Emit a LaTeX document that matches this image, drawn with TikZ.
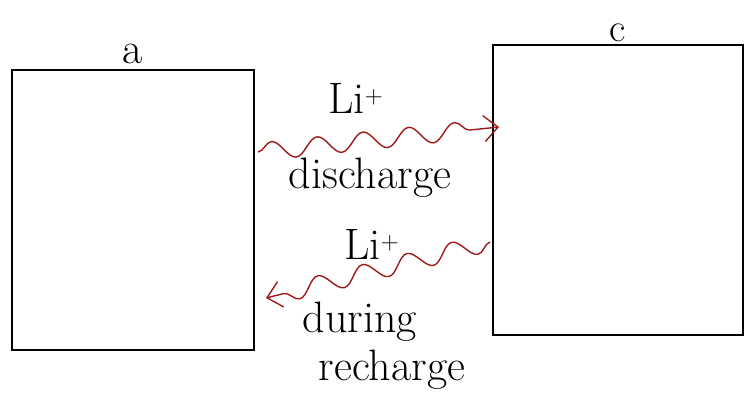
\documentclass[tikz,border=0pt]{standalone}
\usepackage{tikz}
\usetikzlibrary{arrows.meta, positioning, decorations.pathmorphing}
\definecolor{ionRed}{HTML}{9E1A1A}

\begin{document}
\begin{tikzpicture}[x=1pt, y=-1pt,
  cell/.style={draw, line width=2pt, minimum width=242pt, minimum height=280pt},
  tag/.style={font=\fontsize{44}{48}\selectfont, inner sep=1pt},
  flow/.style={draw=ionRed, line width=1.4pt, decorate,
               decoration={snake, amplitude=9pt, segment length=46pt, post length=14pt},
               -{Straight Barb[length=14pt, width=26pt]}},
]
  \useasboundingbox (0,0) rectangle (748,406);
  % electrodes
  \node[cell] (a) at (133,210) {};
  \node[cell, minimum width=250pt, minimum height=290pt] (c) at (618,190) {};
  \node[tag, above=4pt of a] (alabel) {a};
  \node[tag, font=\fontsize{40}{44}\selectfont, above=1pt of c] (clabel) {c};

  % ion flow
  \coordinate (dstart) at (258,152);
  \coordinate (dend) at (499,127);
  \coordinate (rstart) at (490,242);
  \coordinate (rend) at (266,298);
  \draw[flow] (dstart) -- (dend);
  \draw[flow] (rstart) -- (rend);

  \node[tag] (ion1) at (356,98) {Li$^{+}$};
  \node[tag] (dis) at (370,178) {discharge};
  \node[tag] (ion2) at (372,244) {Li$^{+}$};
  \node[tag] (dur) at (360,322) {during};
  \node[tag] (rec) at (392,370) {recharge};
\end{tikzpicture}
\end{document}
